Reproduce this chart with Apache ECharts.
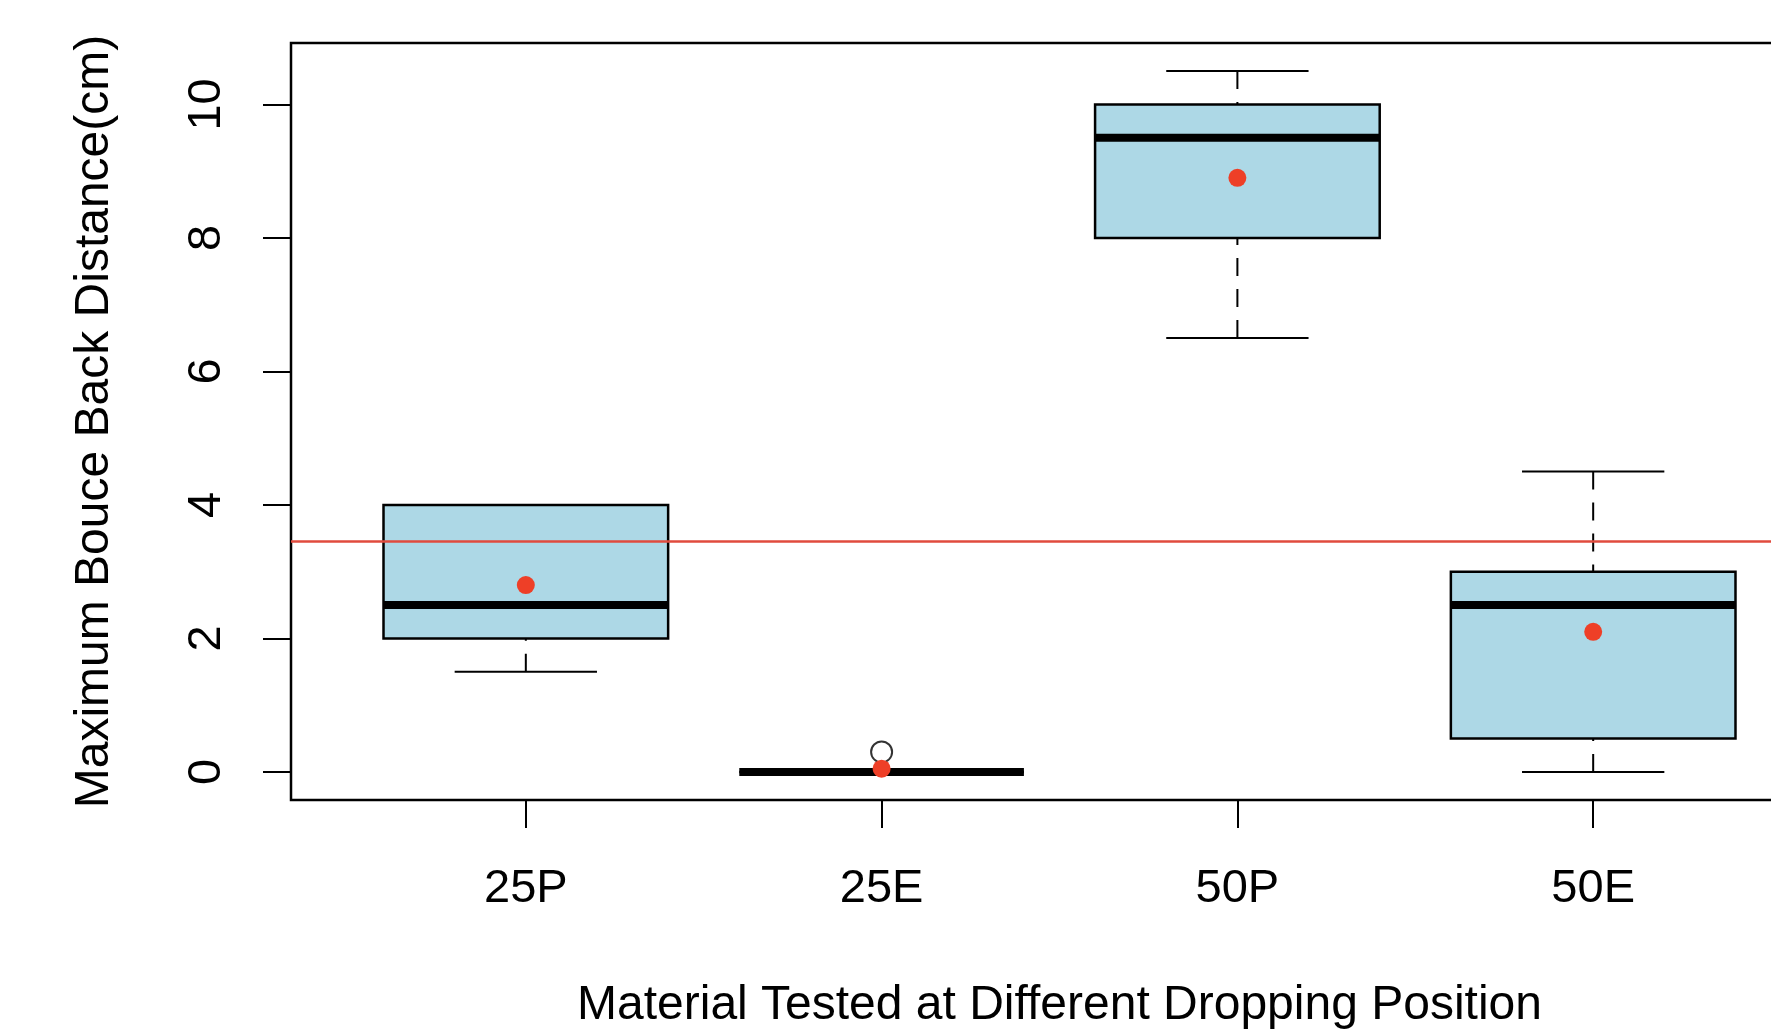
<!DOCTYPE html>
<html lang="en">
  <head>
    <meta charset="UTF-8" />
    <title>Maximum Bounce Back Distance</title>
    <style>
      html, body { margin: 0; padding: 0; background: #fff; overflow: hidden; }
    </style>
  </head>
  <body>
    <div id="main" style="width: 1771px; height: 1030px"></div>
    <script src="https://cdn.jsdelivr.net/npm/echarts@6/dist/echarts.min.js"></script>
    <script>
      // groups on the x axis (R puts them at 1..n)
      const categories = ["25P", "25E", "50P", "50E"];
      // five-number summaries
      const lowerWhisker = [1.5, 0, 6.5, 0];
      const lowerQuartile = [2, 0, 8, 0.5];
      const medians = [2.5, 0, 9.5, 2.5];
      const upperQuartile = [4, 0, 10, 3];
      const upperWhisker = [4, 0, 10.5, 4.5];
      // red dots: group means
      const means = [2.8, 0.05, 8.9, 2.1];
      // open circles: outliers as [group index, value]
      const outliers = [[1, 0.3]];
      // red reference line: overall mean
      const overallMean = 3.45;
      const yTicks = [0, 2, 4, 6, 8, 10];

      const FONT = "Liberation Sans, Arial, Helvetica, sans-serif";
      const BOX_WEX = 0.8;

      const boxData = categories.map((c, i) => [
        i + 1,
        lowerWhisker[i],
        lowerQuartile[i],
        medians[i],
        upperQuartile[i],
        upperWhisker[i],
      ]);
      const meanData = means.map((m, i) => [i + 1, m]);
      const outlierData = outliers.map((o) => [o[0] + 1, o[1]]);

      function renderBox(params, api) {
        const x = api.value(0);
        const lo = api.coord([x, api.value(1)]);
        const q1 = api.coord([x, api.value(2)]);
        const med = api.coord([x, api.value(3)]);
        const q3 = api.coord([x, api.value(4)]);
        const hi = api.coord([x, api.value(5)]);
        const w = api.size([BOX_WEX, 0])[0];
        const cx = med[0];
        const dash = { stroke: "#000", lineWidth: 2, lineDash: [18, 13] };
        const solid = { stroke: "#000", lineWidth: 2 };
        return {
          type: "group",
          children: [
            // whiskers go from the end toward the box, like R does
            { type: "line", shape: { x1: cx, y1: lo[1], x2: cx, y2: q1[1] }, style: dash },
            { type: "line", shape: { x1: cx, y1: hi[1], x2: cx, y2: q3[1] }, style: dash },
            { type: "line", shape: { x1: cx - w / 4, y1: lo[1], x2: cx + w / 4, y2: lo[1] }, style: solid },
            { type: "line", shape: { x1: cx - w / 4, y1: hi[1], x2: cx + w / 4, y2: hi[1] }, style: solid },
            {
              type: "rect",
              shape: { x: cx - w / 2, y: q3[1], width: w, height: q1[1] - q3[1] },
              style: { fill: "#ADD8E6", stroke: "#000", lineWidth: 2.5 },
            },
            {
              type: "line",
              shape: { x1: cx - w / 2, y1: med[1], x2: cx + w / 2, y2: med[1] },
              style: { stroke: "#000", lineWidth: 8, lineCap: "butt" },
            },
          ],
        };
      }

      const chart = echarts.init(document.getElementById("main"));
      chart.setOption({
        backgroundColor: "#fff",
        animation: false,
        grid: {
          show: true,
          left: 291,
          top: 43,
          width: 1537,
          bottom: 230,
          containLabel: false,
          outerBoundsMode: "none",
          borderColor: "#000",
          borderWidth: 2.5,
          backgroundColor: "transparent",
        },
        xAxis: {
          type: "value",
          min: 0.34,
          max: 4.66,
          name: "Material Tested at Different Dropping Position",
          nameLocation: "middle",
          nameGap: 182,
          nameTextStyle: { fontFamily: FONT, fontSize: 48, color: "#000" },
          axisLine: { show: false, onZero: false },
          splitLine: { show: false },
          axisTick: {
            show: true,
            length: 28,
            customValues: [1, 2, 3, 4],
            lineStyle: { color: "#000", width: 2 },
          },
          axisLabel: {
            customValues: [1, 2, 3, 4],
            formatter: (v) => categories[Math.round(v) - 1],
            margin: 66,
            fontFamily: FONT,
            fontSize: 47,
            color: "#000",
          },
        },
        yAxis: {
          type: "value",
          min: -0.42,
          max: 10.92,
          name: "Maximum Bouce Back Distance(cm)",
          nameLocation: "middle",
          nameGap: 172,
          nameTextStyle: { fontFamily: FONT, fontSize: 48, color: "#000" },
          axisLine: { show: false, onZero: false },
          splitLine: { show: false },
          axisTick: {
            show: true,
            length: 28,
            customValues: yTicks,
            lineStyle: { color: "#000", width: 2 },
          },
          axisLabel: {
            customValues: yTicks,
            rotate: 90,
            margin: 60,
            fontFamily: FONT,
            fontSize: 47,
            color: "#000",
          },
        },
        series: [
          {
            type: "custom",
            name: "box",
            renderItem: renderBox,
            encode: { x: 0, y: [1, 2, 3, 4, 5] },
            data: boxData,
            silent: true,
            z: 2,
          },
          {
            type: "scatter",
            name: "outliers",
            data: outlierData,
            symbol: "circle",
            symbolSize: 21,
            itemStyle: { color: "transparent", borderColor: "#000", borderWidth: 2 },
            z: 3,
          },
          {
            type: "scatter",
            name: "means",
            data: meanData,
            symbol: "circle",
            symbolSize: 18,
            itemStyle: { color: "#EE3F27", opacity: 1 },
            z: 4,
            markLine: {
              silent: true,
              symbol: "none",
              label: { show: false },
              lineStyle: { color: "#E04B3E", width: 2.5, type: "solid", opacity: 1 },
              data: [{ yAxis: overallMean }],
              z: 5,
            },
          },
        ],
      });
    </script>
  </body>
</html>
